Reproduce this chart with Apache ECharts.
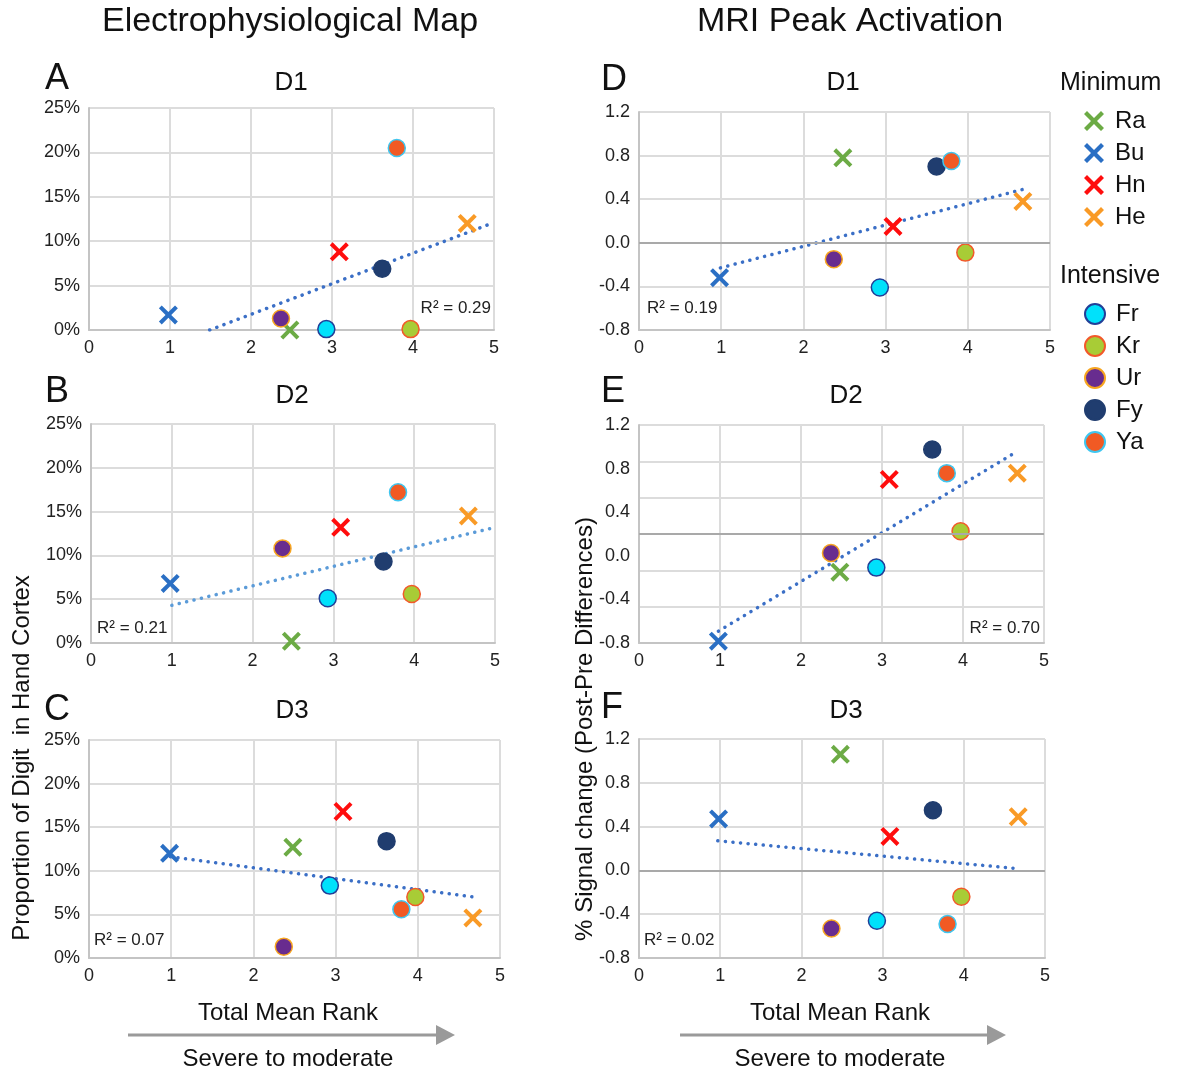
<!DOCTYPE html>
<html>
<head>
<meta charset="utf-8">
<title>Digit map vs Total Mean Rank</title>
<script src="https://cdn.jsdelivr.net/npm/echarts@6/dist/echarts.min.js"></script>
<style>
  html, body { margin: 0; padding: 0; background: #fff; }
  #main { width: 1178px; height: 1077px; }
</style>
</head>
<body>
<div id="main"></div>
<script>
// patients (Minimum group first, then Intensive group)
var names = ['Ra', 'Bu', 'Hn', 'He', 'Fr', 'Kr', 'Ur', 'Fy', 'Ya'];
var minimumGroup = ['Ra', 'Bu', 'Hn', 'He'];
var intensiveGroup = ['Fr', 'Kr', 'Ur', 'Fy', 'Ya'];

// Total Mean Rank (x axis), same patient order as names
var meanRank = [2.48, 0.98, 3.09, 4.67, 2.93, 3.97, 2.37, 3.62, 3.80];

// Electrophysiological map: proportion of digit in hand cortex (%)
var mapD1 = [0, 1.7, 8.8, 12.0, 0.1, 0.1, 1.3, 6.9, 20.5];
var mapD2 = [0.2, 6.8, 13.2, 14.5, 5.1, 5.6, 10.8, 9.3, 17.2];
var mapD3 = [12.7, 12.0, 16.8, 4.6, 8.3, 7.0, 1.3, 13.4, 5.6];

// MRI peak activation: % signal change (post-pre)
var mriD1 = [0.78, -0.32, 0.15, 0.38, -0.41, -0.09, -0.15, 0.70, 0.75];
var mriD2 = [-0.42, -1.18, 0.60, 0.67, -0.37, 0.03, -0.21, 0.93, 0.67];
var mriD3 = [1.06, 0.47, 0.31, 0.49, -0.46, -0.24, -0.53, 0.55, -0.49];

// trend lines (start / end point)
var trendA = [[1.49, 0], [5, 12.1]];
var trendB = [[1.0, 4.3], [5, 13.2]];
var trendC = [[0.99, 11.6], [4.68, 7.0]];
var trendD = [[0.99, -0.23], [4.67, 0.49]];
var trendE = [[0.98, -1.07], [4.67, 0.91]];
var trendF = [[0.97, 0.27], [4.61, 0.02]];

var r2Values = ['0.29', '0.21', '0.07', '0.19', '0.70', '0.02'];

// tick labels
var rankTicks = [0, 1, 2, 3, 4, 5];
var mapTicks = [0, 5, 10, 15, 20, 25];
var mriTicks = [-0.8, -0.4, 0, 0.4, 0.8, 1.2];
var mriTicksE = [-1.2, -0.8, -0.4, 0, 0.4, 0.8, 1.2]; // panel E gridlines

var FONT = '"Liberation Sans", Arial, Helvetica, sans-serif';
var X = 'path://M0,3L3,0L10,7L17,0L20,3L13,10L20,17L17,20L10,13L3,20L0,17L7,10Z';

var styles = {
    Ra: { symbol: X, size: 19, fill: '#6cab45' },
    Bu: { symbol: X, size: 19, fill: '#2a6fc4' },
    Hn: { symbol: X, size: 19, fill: '#ff0d0d' },
    He: { symbol: X, size: 19, fill: '#f99a26' },
    Fr: { symbol: 'circle', size: 17, fill: '#00e1fb', border: '#213f98' },
    Kr: { symbol: 'circle', size: 17, fill: '#a8cc36', border: '#f2592a' },
    Ur: { symbol: 'circle', size: 17, fill: '#682c8f', border: '#f7a51f' },
    Fy: { symbol: 'circle', size: 17, fill: '#203d6f', border: '#203d6f' },
    Ya: { symbol: 'circle', size: 17, fill: '#f15a24', border: '#3ec6f0' }
};

var panels = [
    { letter: 'A', title: 'D1', values: mapD1, trend: trendA, kind: 'map', trendColor: '#3b6fc6' },
    { letter: 'B', title: 'D2', values: mapD2, trend: trendB, kind: 'map', trendColor: '#5b9bd8' },
    { letter: 'C', title: 'D3', values: mapD3, trend: trendC, kind: 'map', trendColor: '#3b6fc6' },
    { letter: 'D', title: 'D1', values: mriD1, trend: trendD, kind: 'mri', trendColor: '#3b6fc6' },
    { letter: 'E', title: 'D2', values: mriD2, trend: trendE, kind: 'mriE', trendColor: '#3b6fc6' },
    { letter: 'F', title: 'D3', values: mriD3, trend: trendF, kind: 'mri', trendColor: '#3b6fc6' }
];

// plot rectangles and label spots
var layout = [
    { left: 89, top: 108, width: 405, height: 222, letter: [57, 79], title: [291, 83], r2: [491, 308, 'right'] },
    { left: 91, top: 424, width: 404, height: 219, letter: [57, 392], title: [292, 396], r2: [97, 628, 'left'] },
    { left: 89, top: 740, width: 411, height: 218, letter: [57, 710], title: [292, 711], r2: [94, 940, 'left'] },
    { left: 639, top: 112, width: 411, height: 218, letter: [614, 80], title: [843, 83], r2: [647, 308, 'left'] },
    { left: 639, top: 425, width: 405, height: 218, letter: [613, 392], title: [846, 396], r2: [1040, 628, 'right'] },
    { left: 639, top: 739, width: 406, height: 219, letter: [612, 708], title: [846, 711], r2: [644, 940, 'left'] }
];

var gridColor = '#dcdcdc';
var axisColor = '#c4c4c4';

var grids = [], xAxes = [], yAxes = [], series = [], graphics = [];

panels.forEach(function (p, i) {
    var L = layout[i];
    grids.push({ left: L.left, top: L.top, width: L.width, height: L.height });

    xAxes.push({
        type: 'value', gridIndex: i,
        min: rankTicks[0], max: rankTicks[rankTicks.length - 1], interval: 1,
        axisLine: { onZero: false, lineStyle: { color: axisColor, width: 2 } },
        axisTick: { show: false },
        splitLine: { lineStyle: { color: gridColor, width: 2 } },
        axisLabel: { fontSize: 18, color: '#222', fontFamily: FONT, margin: 9 }
    });

    var ticks = p.kind === 'map' ? mapTicks : (p.kind === 'mriE' ? mriTicksE : mriTicks);
    var yIndex = yAxes.length;
    yAxes.push({
        type: 'value', gridIndex: i, position: 'left',
        min: ticks[0], max: ticks[ticks.length - 1], interval: ticks[1] - ticks[0],
        axisLine: { show: true, onZero: false, lineStyle: { color: axisColor, width: 2 } },
        axisTick: { show: false },
        splitLine: { lineStyle: { color: gridColor, width: 2 } },
        axisLabel: {
            show: p.kind !== 'mriE',
            fontSize: 18, color: '#222', fontFamily: FONT, margin: 9,
            formatter: p.kind === 'map'
                ? function (v) { return Math.round(v) + '%'; }
                : function (v) { return v.toFixed(1); }
        }
    });
    if (p.kind === 'mriE') {
        // labels printed evenly from -0.8 to 1.2, as in the figure
        yAxes.push({
            type: 'value', gridIndex: i, position: 'left', offset: 0,
            min: mriTicks[0], max: mriTicks[mriTicks.length - 1], interval: 0.4,
            axisLine: { show: false, onZero: false }, axisTick: { show: false }, splitLine: { show: false },
            axisLabel: {
                fontSize: 18, color: '#222', fontFamily: FONT, margin: 9,
                formatter: function (v) { return v.toFixed(1); }
            }
        });
    }

    var trend = {
        type: 'line', name: 'trend' + i, xAxisIndex: i, yAxisIndex: yIndex,
        data: p.trend, symbol: 'none', silent: true, z: 2,
        lineStyle: { color: p.trendColor, width: 3.5, type: [0.1, 7.5], cap: 'round' }
    };
    if (p.kind !== 'map') {
        trend.markLine = {
            silent: true, symbol: ['none', 'none'], label: { show: false },
            lineStyle: { color: '#a9a9a9', width: 2, type: 'solid' },
            data: [{ yAxis: 0 }]
        };
    }
    series.push(trend);

    names.forEach(function (n, k) {
        var s = styles[n];
        series.push({
            type: 'scatter', name: n, xAxisIndex: i, yAxisIndex: yIndex, z: 3,
            symbol: s.symbol, symbolSize: s.size,
            itemStyle: { color: s.fill, borderColor: s.border || s.fill, borderWidth: s.border ? 1.5 : 0, opacity: 1 },
            data: [[meanRank[k], p.values[k]]]
        });
    });

    graphics.push({ type: 'text', x: L.letter[0], y: L.letter[1],
        style: { text: p.letter, font: '36px ' + FONT, fill: '#111', align: 'center', verticalAlign: 'middle' } });
    graphics.push({ type: 'text', x: L.title[0], y: L.title[1],
        style: { text: p.title, font: '26px ' + FONT, fill: '#111', align: 'center', verticalAlign: 'middle' } });
    graphics.push({ type: 'text', x: L.r2[0], y: L.r2[1], z: 10,
        style: { text: 'R\u00b2 = ' + r2Values[i], font: '17px ' + FONT, fill: '#222', align: L.r2[2], verticalAlign: 'middle' } });
});

// column headings, axis names, legend headings
graphics.push(
    { type: 'text', x: 290, y: 22, style: { text: 'Electrophysiological Map', font: '34px ' + FONT, fill: '#111', align: 'center', verticalAlign: 'middle' } },
    { type: 'text', x: 850, y: 22, style: { text: 'MRI Peak Activation', font: '34px ' + FONT, fill: '#111', align: 'center', verticalAlign: 'middle' } },
    { type: 'text', x: 22, y: 758, rotation: Math.PI / 2, style: { text: 'Proportion of Digit  in Hand Cortex', font: '24px ' + FONT, fill: '#111', align: 'center', verticalAlign: 'middle' } },
    { type: 'text', x: 585, y: 729, rotation: Math.PI / 2, style: { text: '% Signal change (Post-Pre Differences)', font: '24px ' + FONT, fill: '#111', align: 'center', verticalAlign: 'middle' } },
    { type: 'text', x: 1060, y: 83, style: { text: 'Minimum', font: '25px ' + FONT, fill: '#111', align: 'left', verticalAlign: 'middle' } },
    { type: 'text', x: 1060, y: 276, style: { text: 'Intensive', font: '25px ' + FONT, fill: '#111', align: 'left', verticalAlign: 'middle' } }
);

// "Total Mean Rank" arrows under each column
[[128, 455, 288], [680, 1006, 840]].forEach(function (a) {
    graphics.push(
        { type: 'text', x: a[2], y: 1013, style: { text: 'Total Mean Rank', font: '24px ' + FONT, fill: '#111', align: 'center', verticalAlign: 'middle' } },
        { type: 'line', shape: { x1: a[0], y1: 1035, x2: a[1] - 14, y2: 1035 }, style: { stroke: '#9a9a9a', lineWidth: 3 } },
        { type: 'polygon', shape: { points: [[a[1] - 19, 1025], [a[1], 1035], [a[1] - 19, 1045]] }, style: { fill: '#9a9a9a' } },
        { type: 'text', x: a[2], y: 1059, style: { text: 'Severe to moderate', font: '24px ' + FONT, fill: '#111', align: 'center', verticalAlign: 'middle' } }
    );
});

var legendBase = {
    orient: 'vertical', left: 1079, itemWidth: 20, itemHeight: 20, itemGap: 8,
    selectedMode: false,
    textStyle: { fontSize: 24, color: '#111', fontFamily: FONT, lineHeight: 20, padding: [0, 0, 0, 6] }
};

var chart = echarts.init(document.getElementById('main'));
chart.setOption({
    animation: false,
    backgroundColor: '#fff',
    grid: grids,
    xAxis: xAxes,
    yAxis: yAxes,
    legend: [
        Object.assign({}, legendBase, { top: 104, data: minimumGroup }),
        Object.assign({}, legendBase, { top: 297, data: intensiveGroup })
    ],
    series: series,
    graphic: graphics
});
</script>
</body>
</html>
